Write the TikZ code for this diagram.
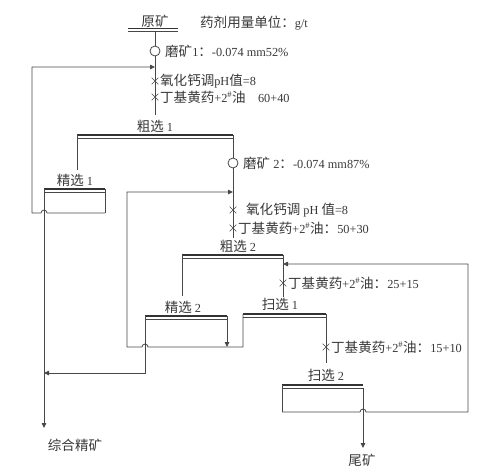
\documentclass[tikz,border=0pt]{standalone}
\usepackage{fontspec}
\setmainfont{Liberation Serif}
\newfontfamily\cjk[Scale=1.1]{Noto Sans CJK SC}
\usetikzlibrary{arrows.meta,shapes.misc}
\newcommand\zh[1]{{\cjk #1}}
\newcommand\oil{+2\textsuperscript{\#}}
\begin{document}
\begin{tikzpicture}[x=1pt,y=-1pt,
  line/.style={draw=black!72, line width=0.8pt},
  flow/.style={line, -{Triangle[length=5pt,width=4.5pt]}},
  bartop/.style={draw=black!80, line width=1.4pt},
  barlow/.style={draw=black!72, line width=0.6pt},
  lbl/.style={font=\fontsize{12.3}{14}\selectfont, inner sep=0pt, text=black!78},
  note/.style={lbl, anchor=west},
  mill/.style={circle, draw=black!72, line width=0.8pt, fill=white, minimum size=10pt, inner sep=0pt},
  dose/.style={cross out, draw=black!72, line width=0.6pt, minimum size=6pt, inner sep=0pt}
]
\useasboundingbox (0,0) rectangle (490,472);

% ---- texts ----
\node[lbl] (ore) at (155,21) {\zh{原矿}};
\node[note] (unit) at (200,23) {\zh{药剂用量单位：}g/t};
\node[lbl] (r1) at (155,126) {\zh{粗选} 1};
\node[lbl] (c1) at (75,180) {\zh{精选} 1};
\node[lbl] (r2) at (238,246) {\zh{粗选} 2};
\node[lbl] (c2) at (183,307) {\zh{精选} 2};
\node[lbl] (s1) at (280,304) {\zh{扫选} 1};
\node[lbl] (s2) at (326,375) {\zh{扫选} 2};
\node[lbl] (conc) at (75,445) {\zh{综合精矿}};
\node[lbl] (tail) at (362,460) {\zh{尾矿}};

% ---- bars (flotation cells) ----
\draw[bartop] (128,28.5) -- (178,28.5);  \draw[barlow] (128,31.5) -- (178,31.5);
\draw[bartop] (77,135) -- (233,135);     \draw[barlow] (77,138) -- (233,138);
\draw[bartop] (44,189) -- (105,189);     \draw[barlow] (44,192) -- (105,192);
\draw[bartop] (182,255) -- (283,255);    \draw[barlow] (182,258) -- (283,258);
\draw[bartop] (145,316) -- (227,316);    \draw[barlow] (145,319) -- (227,319);
\draw[bartop] (243,314) -- (326,314);    \draw[barlow] (243,317) -- (326,317);
\draw[bartop] (282,385) -- (363,385);    \draw[barlow] (282,388) -- (363,388);

% ---- coordinates ----
\coordinate (m1top) at (155,31);
\coordinate (m1bot) at (155,115);
\coordinate (in1) at (155,67);
\coordinate (m2top) at (233,135);
\coordinate (m2bot) at (233,238);
\coordinate (in2) at (233,192);
\coordinate (in3) at (283,264);

% ---- main feed line ----
\draw[line] (m1top) -- (m1bot);
\node[mill] (g1) at (155,51) {};
\node[note] (g1t) at (165,51) {\zh{磨矿}1\zh{：}-0.074 mm52\%};
\node[dose] (d1) at (155,81) {};
\node[dose] (d2) at (155,97) {};
\node[note] (d1t) at (160,81) {\zh{氧化钙调}pH\zh{值}=8};
\node[note] (d2t) at (160,97) {\zh{丁基黄药}\oil\zh{油}\quad 60+40};

% ---- rougher 1 ----
\draw[line] (77,135) -- (77,170);
\draw[line] (m2top) -- (m2bot);
\node[mill] (g2) at (233,163) {};
\node[note] (g2t) at (243,163) {\zh{磨矿} 2\zh{：}-0.074 mm87\%};
\node[dose] (d3) at (233,210) {};
\node[dose] (d4) at (233,228) {};
\node[note] (d3t) at (246,210) {\zh{氧化钙调} pH \zh{值}=8};
\node[note] (d4t) at (238,228) {\zh{丁基黄药}\oil\zh{油：}50+30};

% ---- cleaner 1 ----
\draw[line] (44,189) -- (44,213);
\draw[line] (105,189) -- (105,213);
\draw[flow] (105,213) -- (47,213) arc[start angle=0,end angle=180,radius=3pt] -- (32,213) -- (32,67) -- (in1);
\draw[flow] (44,192) -- (44,428);

% ---- rougher 2 ----
\draw[line] (182,255) -- (182,296);
\draw[line] (283,255) -- (283,297);
\node[dose] (d5) at (283,283) {};
\node[note] (d5t) at (288,283) {\zh{丁基黄药}\oil\zh{油：}25+15};

% ---- cleaner 2 ----
\draw[line] (145,316) -- (145,347);
\draw[flow] (227,316) -- (227,347);
\draw[flow] (145,347) -- (145,373) -- (44,373);

% ---- scavenger 1 ----
\draw[flow] (243,314) -- (243,347) -- (148,347) arc[start angle=0,end angle=180,radius=3pt] -- (127,347) -- (127,192) -- (in2);
\draw[line] (326,314) -- (326,363);
\node[dose] (d6) at (326,347) {};
\node[note] (d6t) at (331,347) {\zh{丁基黄药}\oil\zh{油：}15+10};

% ---- scavenger 2 ----
\draw[line] (282,385) -- (282,412);
\draw[flow] (282,412) -- (360,412) arc[start angle=180,end angle=0,radius=3pt] -- (468,412) -- (468,264) -- (in3);
\draw[flow] (363,388) -- (363,448);
\end{tikzpicture}
\end{document}
